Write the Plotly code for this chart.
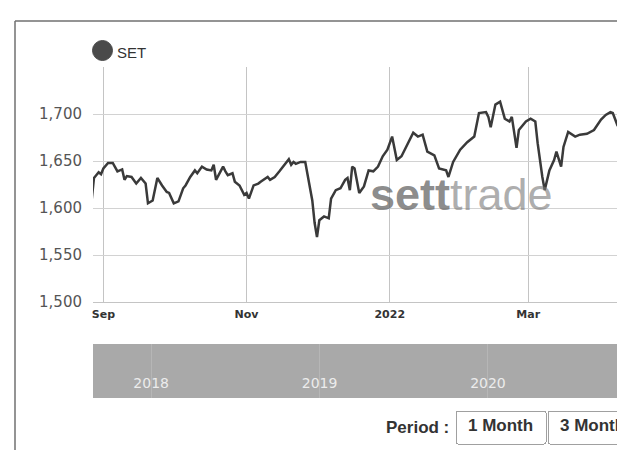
import plotly.graph_objects as go

# ---- data ----
dates = [
    "2021-08-27", "2021-08-28", "2021-08-30", "2021-08-31", "2021-09-01", "2021-09-03",
    "2021-09-05", "2021-09-06", "2021-09-07", "2021-09-09", "2021-09-10", "2021-09-11",
    "2021-09-13", "2021-09-15", "2021-09-17", "2021-09-19", "2021-09-20", "2021-09-22",
    "2021-09-23", "2021-09-24", "2021-09-26", "2021-09-28", "2021-09-29", "2021-10-01",
    "2021-10-03", "2021-10-05", "2021-10-06", "2021-10-08", "2021-10-10", "2021-10-11",
    "2021-10-13", "2021-10-15", "2021-10-17", "2021-10-18", "2021-10-19", "2021-10-20",
    "2021-10-22", "2021-10-23", "2021-10-24", "2021-10-26", "2021-10-27", "2021-10-29",
    "2021-10-31", "2021-11-01", "2021-11-02", "2021-11-04", "2021-11-06", "2021-11-07",
    "2021-11-10", "2021-11-11", "2021-11-13", "2021-11-15", "2021-11-17", "2021-11-19",
    "2021-11-20", "2021-11-21", "2021-11-22", "2021-11-24", "2021-11-26", "2021-11-27",
    "2021-11-29", "2021-11-30", "2021-12-01", "2021-12-02", "2021-12-04", "2021-12-06",
    "2021-12-07", "2021-12-09", "2021-12-11", "2021-12-13", "2021-12-14", "2021-12-15",
    "2021-12-16", "2021-12-17", "2021-12-19", "2021-12-21", "2021-12-23", "2021-12-25",
    "2021-12-27", "2021-12-29", "2021-12-31", "2022-01-02", "2022-01-04", "2022-01-06",
    "2022-01-09", "2022-01-11", "2022-01-13", "2022-01-15", "2022-01-17", "2022-01-20",
    "2022-01-22", "2022-01-25", "2022-01-26", "2022-01-28", "2022-01-31", "2022-02-03",
    "2022-02-06", "2022-02-08", "2022-02-11", "2022-02-12", "2022-02-13", "2022-02-15",
    "2022-02-17", "2022-02-19", "2022-02-21", "2022-02-22", "2022-02-24", "2022-02-25",
    "2022-02-28", "2022-03-01", "2022-03-02", "2022-03-04", "2022-03-05", "2022-03-07",
    "2022-03-08", "2022-03-10", "2022-03-12", "2022-03-13", "2022-03-15", "2022-03-16",
    "2022-03-18", "2022-03-21", "2022-03-23", "2022-03-26", "2022-03-29", "2022-04-01",
    "2022-04-03", "2022-04-05", "2022-04-06", "2022-04-08", "2022-04-09", "2022-04-11",
    "2022-04-13",
]

set_index = [
    1608, 1632, 1638, 1636, 1642, 1648,
    1648, 1644, 1639, 1641, 1630, 1634,
    1633, 1626, 1632, 1626, 1605, 1608,
    1619, 1632, 1624, 1617, 1616, 1605,
    1607, 1621, 1624, 1633, 1640, 1637,
    1644, 1641, 1640, 1646, 1630, 1635,
    1644, 1639, 1635, 1637, 1628, 1624,
    1614, 1616, 1610, 1624, 1626, 1628,
    1633, 1630, 1633, 1639, 1646, 1652,
    1646, 1649, 1647, 1649, 1649, 1635,
    1608, 1584, 1569, 1587, 1591, 1589,
    1610, 1619, 1621, 1630, 1632, 1619,
    1644, 1642, 1616, 1623, 1640, 1639,
    1644, 1655, 1662, 1676, 1651, 1655,
    1669, 1680, 1676, 1678, 1660, 1656,
    1642, 1640, 1633, 1649, 1662, 1670,
    1676, 1701, 1702, 1697, 1686, 1710,
    1713, 1695, 1692, 1697, 1664, 1683,
    1692, 1694, 1695, 1692, 1669, 1633,
    1619, 1640, 1651, 1660, 1644, 1665,
    1681, 1676, 1678, 1679, 1683, 1694,
    1699, 1702, 1701, 1688, 1685, 1678,
    1675,
]

x_tick_dates = ["2021-09-01", "2021-11-01", "2022-01-01", "2022-03-01"]
x_tick_labels = ["Sep", "Nov", "2022", "Mar"]
y_tick_values = [1500, 1550, 1600, 1650, 1700, 1750]
y_tick_labels = ["1,500", "1,550", "1,600", "1,650", "1,700", ""]
nav_year_dates = ["2018-01-01", "2019-01-01", "2020-01-01"]
nav_year_labels = ["2018", "2019", "2020"]
series_name = "SET"
period_labels = ["1 Month", "3 Months"]
period_ranges = [["2022-03-11", "2022-04-11"], ["2022-01-11", "2022-04-11"]]

# ---- figure ----
fig = go.Figure()
fig.add_trace(go.Scatter(
    x=dates, y=set_index, mode="lines", name=series_name,
    line=dict(color="#3a3a3a", width=2.5), showlegend=False,
    xaxis="x", yaxis="y",
))
# empty navigator series (creates the navigator subplot)
fig.add_trace(go.Scatter(x=[], y=[], mode="lines", showlegend=False,
                         xaxis="x2", yaxis="y2", hoverinfo="skip"))

# The page body has an 8px margin, so the figure is sized/positioned to fit.
BODY = 8
W, H = 625 - BODY, 450 - BODY
ml, mr, mt, mb = 93 - BODY, 0, 67 - BODY, 450 - 398
pw, ph = W - ml - mr, H - mt - mb


def px_x(sx):
    """screen x -> paper x"""
    return (sx - BODY - ml) / pw


def px_y(sy):
    """screen y -> paper y"""
    return (H - mb - (sy - BODY)) / ph


fig.update_layout(
    width=W, height=H,
    margin=dict(l=ml, r=mr, t=mt, b=mb, autoexpand=False),
    paper_bgcolor="white", plot_bgcolor="white",
    xaxis=dict(
        type="date", domain=[0, 1], anchor="y",
        range=["2021-08-27 14:00", "2022-04-11 05:00"],
        tickmode="array", tickvals=x_tick_dates, ticktext=x_tick_labels,
        showgrid=True, gridcolor="#c4c4c4", gridwidth=1,
        showline=True, linecolor="#c4c4c4", linewidth=1,
        ticks="", ticklabelstandoff=2,
        tickfont=dict(family="DejaVu Sans", size=11, color="#333333", weight="bold"),
        zeroline=False, fixedrange=True,
    ),
    yaxis=dict(
        domain=[px_y(302), 1], anchor="x",
        range=[1500, 1750],
        tickmode="array", tickvals=y_tick_values, ticktext=y_tick_labels,
        showgrid=True, gridcolor="#d2d2d2", gridwidth=1,
        showline=False, ticks="", ticklabelstandoff=10,
        tickfont=dict(family="DejaVu Sans", size=15, color="#555555"),
        zeroline=False, fixedrange=True,
    ),
    xaxis2=dict(
        type="date", domain=[0, 1], anchor="y2",
        range=["2017-08-28", "2020-10-24"],
        tickmode="array", tickvals=nav_year_dates, ticktext=nav_year_labels,
        ticklabelposition="inside", ticks="", ticklabelstandoff=4,
        tickfont=dict(family="DejaVu Sans", size=14, color="#ececec"),
        showgrid=True, gridcolor="#b6b6b6", gridwidth=1,
        showline=False, zeroline=False, fixedrange=True,
    ),
    yaxis2=dict(
        domain=[0, px_y(344)], anchor="x2", range=[0, 1],
        showticklabels=False, showgrid=False, zeroline=False,
        showline=False, ticks="", fixedrange=True,
    ),
    shapes=[
        # navigator band
        dict(type="rect", xref="x2 domain", yref="y2 domain", x0=0, x1=1, y0=0, y1=1,
             fillcolor="#a9a9a9", line=dict(width=0), layer="below"),
        # outer frame
        dict(type="line", xref="paper", yref="paper",
             x0=px_x(15), x1=px_x(15), y0=px_y(21), y1=px_y(455),
             line=dict(color="#707070", width=1.5)),
        dict(type="line", xref="paper", yref="paper",
             x0=px_x(15), x1=1.05, y0=px_y(21), y1=px_y(21),
             line=dict(color="#707070", width=1.5)),
        # legend symbol
        dict(type="circle", xref="paper", yref="paper",
             xsizemode="pixel", ysizemode="pixel",
             xanchor=px_x(102.5), yanchor=px_y(50.5),
             x0=-10, x1=10, y0=-10, y1=10,
             fillcolor="#4a4a4a", line=dict(color="#4a4a4a", width=1)),
    ],
    annotations=[
        dict(text=series_name, xref="paper", yref="paper",
             x=px_x(115), y=px_y(52), xanchor="left", yanchor="middle",
             showarrow=False,
             font=dict(family="Liberation Sans", size=15, color="#333333")),
        dict(text="<b>sett</b><span style='color:rgba(120,120,120,0.75)'>trade</span>",
             xref="paper", yref="paper",
             x=px_x(461), y=px_y(194), xanchor="center", yanchor="middle",
             showarrow=False,
             font=dict(family="Liberation Sans", size=45, color="rgba(110,110,110,0.8)")),
        dict(text="<b>Period :</b>", xref="paper", yref="paper",
             x=px_x(451), y=px_y(427), xanchor="right", yanchor="middle",
             showarrow=False,
             font=dict(family="Liberation Sans", size=17, color="#333333")),
    ],
    updatemenus=[dict(
        type="buttons", direction="right", active=-1, showactive=False,
        x=px_x(455), y=px_y(426), xanchor="left", yanchor="middle",
        pad=dict(l=0, r=0, t=0, b=0),
        bgcolor="white", bordercolor="#a0a0a0", borderwidth=1,
        font=dict(family="Liberation Sans", size=17, color="#333333", weight="bold"),
        buttons=[dict(label=lab, method="relayout", args=[{"xaxis.range": rng}])
                 for lab, rng in zip(period_labels, period_ranges)],
    )],
)

fig.write_html("out.html")
